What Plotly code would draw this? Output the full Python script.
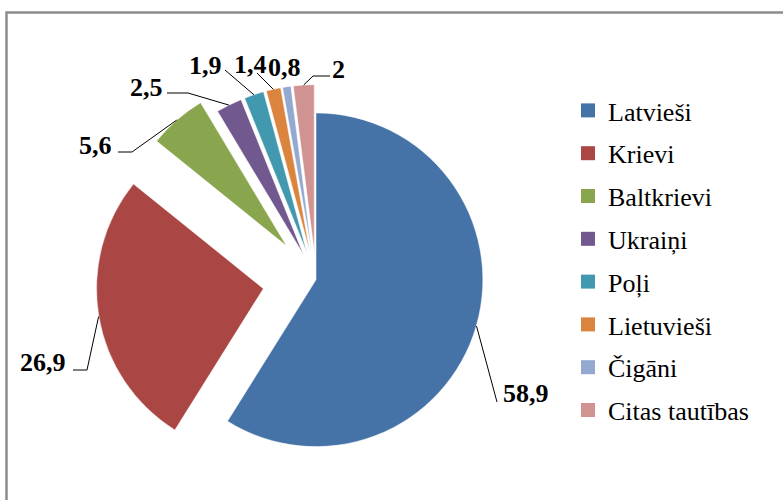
import math
import plotly.graph_objects as go

# ---- data ----
categories = ["Latvieši", "Krievi", "Baltkrievi", "Ukraiņi", "Poļi",
              "Lietuvieši", "Čigāni", "Citas tautības"]
values = [58.9, 26.9, 5.6, 2.5, 1.9, 1.4, 0.8, 2]

# ---- styles ----
colors = ["#4572A7", "#AA4643", "#89A54E", "#71588F", "#4198AF",
          "#DB843D", "#93A9CF", "#D19392"]
pulls = [0, 0.32, 0.27, 0.17, 0.17, 0.17, 0.17, 0.17]
SERIF = "Liberation Serif, Times New Roman, serif"

W, H = 783, 500
CX, CY, R = 316, 280, 167          # pie centre / radius in pixels
maxpull = max(pulls)
half = R * (1 + maxpull)
dom_x = [(CX - half) / W, (CX + half) / W]
dom_y = [max(0, 1 - (CY + half) / H), 1 - (CY - half) / H]


def px(x, y):
    return x / W, 1 - y / H


fig = go.Figure()
fig.add_trace(go.Pie(
    labels=categories, values=values, sort=False, direction="clockwise",
    rotation=0, pull=pulls, textinfo="none", hoverinfo="label+value",
    marker=dict(colors=colors, line=dict(color="white", width=0.5)),
    domain=dict(x=dom_x, y=dom_y), showlegend=False,
))

# legend via empty marker traces (one group each for spacing)
for name, col in zip(categories, colors):
    fig.add_trace(go.Scatter(
        x=[None], y=[None], mode="markers", name=name, legendgroup=name,
        marker=dict(symbol="square", size=14, color=col), showlegend=True,
    ))

# label layout: (text x, text y, xanchor, elbow points after slice anchor)
label_layout = [
    (501, 393, "left", [(497, 402)]),
    (68, 362, "right", [(87, 370), (73, 370)]),
    (114, 145, "right", [(132, 152), (118, 152)]),
    (165, 88, "right", [(188, 93), (167, 93)]),
    (205, 65, "center", [(225, 70)]),
    (250, 64, "center", [(257, 73)]),
    (284, 67, "center", None),
    (330, 69, "left", [(313, 76), (330, 76)]),
]

total = sum(values)
cum = 0.0
shapes = []
annotations = []
for v, pull, (tx, ty, xa, elbow) in zip(values, pulls, label_layout):
    mid = math.radians(360 * (cum + v / 2) / total)
    cum += v
    dx, dy = math.sin(mid), -math.cos(mid)
    ax = CX + pull * R * dx + R * dx
    ay = CY + pull * R * dy + R * dy
    txt = f"{v:g}".replace(".", ",")
    xp, yp = px(tx, ty)
    annotations.append(dict(
        x=xp, y=yp, xref="paper", yref="paper", text=f"<b>{txt}</b>",
        showarrow=False, xanchor=xa, yanchor="middle",
        font=dict(family=SERIF, size=26, color="black"),
    ))
    if elbow:
        pts = [(ax, ay)] + elbow
        path = "M " + " L ".join(f"{px(x, y)[0]:.5f},{px(x, y)[1]:.5f}" for x, y in pts)
        shapes.append(dict(type="path", xref="paper", yref="paper", path=path,
                           line=dict(color="black", width=1)))

# outer frame
shapes.append(dict(type="rect", xref="paper", yref="paper",
                   x0=6.5 / W, y0=-0.05, x1=1.05, y1=1 - 12.5 / H,
                   line=dict(color="#8c8c8c", width=2.5), fillcolor="rgba(0,0,0,0)",
                   layer="below"))

fig.update_layout(
    width=W, height=H, margin=dict(l=0, r=0, t=0, b=0),
    paper_bgcolor="white", plot_bgcolor="white",
    font=dict(family=SERIF),
    xaxis=dict(visible=False), yaxis=dict(visible=False),
    shapes=shapes, annotations=annotations,
    legend=dict(x=568 / W, y=1 - 87 / H, xanchor="left", yanchor="top",
                traceorder="grouped", tracegroupgap=6,
                font=dict(family=SERIF, size=26, color="black"),
                bgcolor="rgba(0,0,0,0)", itemsizing="trace"),
)

fig.write_html("out.html", config={"displayModeBar": False},
               post_script="document.body.style.margin='0';")
